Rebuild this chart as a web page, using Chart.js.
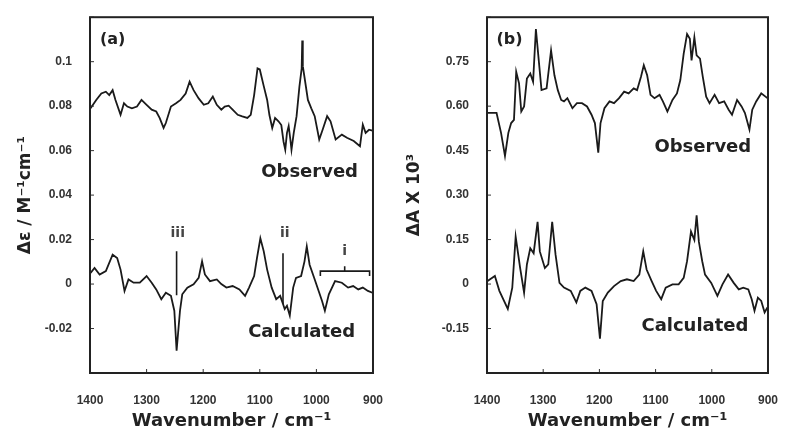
<!DOCTYPE html>
<html>
<head>
<meta charset="utf-8">
<script src="https://cdn.jsdelivr.net/npm/chart.js@4"></script>
<style>
html, body { margin: 0; padding: 0; background: #fff; }
#wrap { position: relative; width: 790px; height: 437px; }
.panel { position: absolute; top: 0; width: 395px; height: 437px; }
#pa { left: 0; }
#pb { left: 395px; }
</style>
</head>
<body>
<div id="wrap">
  <div class="panel" id="pa"><canvas id="chartA" width="395" height="437"></canvas></div>
  <div class="panel" id="pb"><canvas id="chartB" width="395" height="437"></canvas></div>
</div>
<script>
// panel (a): delta epsilon, observed and calculated
const obsA_wn = [1399,1389,1380,1372,1366,1360,1355,1346,1340,1334,1326,1317,1309,1300,1291,1283,1277,1270,1266,1257,1248,1240,1231,1224,1217,1208,1199,1191,1183,1176,1168,1162,1155,1148,1139,1131,1122,1116,1110,1104,1100,1093,1087,1083,1078,1073,1067,1062,1058,1055,1052,1049,1046,1044,1040,1035,1030,1026,1025,1024,1021,1015,1009,1003,995,989,981,975,966,955,946,934,923,918,913,907,901];
const obsA_val = [0.079,0.0828,0.0857,0.0865,0.085,0.0872,0.0828,0.0761,0.0813,0.0798,0.079,0.0798,0.0828,0.0806,0.0784,0.0776,0.0747,0.0702,0.0724,0.0798,0.0813,0.0828,0.0857,0.091,0.0872,0.0835,0.0806,0.0813,0.0843,0.0806,0.0784,0.0798,0.0802,0.0784,0.0761,0.0754,0.0747,0.0761,0.085,0.097,0.0965,0.089,0.0828,0.076,0.0702,0.0747,0.0732,0.0715,0.064,0.0604,0.068,0.071,0.065,0.0604,0.068,0.0755,0.0888,0.097,0.1095,0.098,0.093,0.0828,0.079,0.0755,0.065,0.0694,0.0755,0.0732,0.065,0.0672,0.0658,0.0643,0.062,0.0717,0.068,0.0694,0.069];

const calcA_wn = [1399,1392,1383,1372,1360,1352,1346,1339,1332,1323,1312,1300,1291,1283,1274,1266,1257,1251,1247,1241,1237,1228,1217,1208,1202,1197,1188,1176,1168,1159,1148,1136,1126,1119,1110,1105,1099,1093,1087,1079,1071,1064,1059,1056,1052,1047,1041,1036,1027,1021,1017,1012,1004,996,990,985,978,967,955,944,935,926,918,909,901];
const calcA_val = [0.005,0.0072,0.0043,0.0058,0.0132,0.0117,0.0065,-0.0031,0.0021,0.0006,0.0006,0.0036,0.0006,-0.0024,-0.0068,-0.0039,-0.0053,-0.012,-0.030,-0.012,-0.0046,-0.0016,-0.0001,0.0028,0.0102,0.0043,0.0013,0.0021,0,-0.0016,-0.0009,-0.0024,-0.0053,-0.0016,0.0036,0.0117,0.0206,0.0147,0.0065,-0.0016,-0.0068,-0.0053,-0.009,-0.0112,-0.0098,-0.0142,-0.0016,0.0028,0.0036,0.0102,0.0169,0.0087,0.0028,-0.0031,-0.0076,-0.012,-0.0046,0.0013,0.0006,-0.0016,-0.0009,-0.0024,-0.0016,-0.0031,-0.0039];

// band markers iii, ii and bracket i
const markIII_wn = [1247, 1247];
const markIII_val = [0.0147, -0.005];
const markII_wn = [1059, 1059];
const markII_val = [0.0139, -0.009];
const bracketI_wn = [993, 993, 950, 950, 950, 906, 906];
const bracketI_val = [0.0036, 0.0058, 0.0058, 0.008, 0.0058, 0.0058, 0.0036];

// panel (b): delta A x 10^3
const obsB_wn = [1399,1383,1375,1368,1362,1357,1352,1348,1343,1339,1334,1329,1323,1318,1313,1309,1303,1294,1286,1280,1274,1268,1263,1257,1248,1240,1231,1222,1214,1208,1202,1198,1191,1182,1174,1165,1156,1148,1139,1133,1126,1121,1115,1109,1102,1093,1087,1079,1070,1062,1056,1050,1044,1039,1036,1031,1027,1021,1016,1010,1004,995,987,978,970,964,955,947,941,933,928,921,912,901];
const obsB_val = [0.577,0.577,0.51,0.432,0.51,0.543,0.554,0.716,0.677,0.582,0.599,0.693,0.71,0.682,0.86,0.777,0.654,0.66,0.788,0.704,0.654,0.621,0.616,0.627,0.593,0.61,0.61,0.599,0.571,0.543,0.443,0.543,0.593,0.616,0.61,0.627,0.649,0.643,0.66,0.654,0.699,0.738,0.704,0.638,0.627,0.638,0.616,0.582,0.621,0.643,0.688,0.777,0.843,0.827,0.754,0.832,0.771,0.76,0.699,0.632,0.61,0.638,0.61,0.616,0.588,0.571,0.621,0.599,0.577,0.521,0.588,0.616,0.643,0.627];

const calcB_wn = [1399,1386,1378,1363,1355,1349,1341,1334,1329,1323,1317,1310,1306,1297,1291,1284,1278,1271,1263,1251,1241,1234,1225,1214,1205,1199,1194,1185,1174,1162,1151,1139,1129,1122,1116,1107,1099,1090,1082,1070,1059,1050,1044,1037,1031,1027,1023,1017,1012,1001,990,981,971,961,952,944,935,929,924,918,912,906,901];
const calcB_val = [0.01,0.027,-0.023,-0.084,-0.012,0.16,0.054,-0.029,0.066,0.121,0.104,0.21,0.11,0.054,0.066,0.21,0.099,0.004,-0.012,-0.023,-0.062,-0.023,-0.012,-0.023,-0.068,-0.184,-0.057,-0.029,-0.007,0.01,0.016,0.01,0.032,0.11,0.049,0.01,-0.023,-0.051,-0.012,-0.001,-0.001,0.021,0.077,0.177,0.149,0.232,0.143,0.077,0.032,0.004,-0.04,-0.001,0.032,0.004,-0.018,-0.012,-0.018,-0.051,-0.09,-0.046,-0.057,-0.096,-0.079];

const xTitle = 'Wavenumber / cm\u207B\u00B9';
const yTitleA = '\u0394\u03B5 / M\u207B\u00B9cm\u207B\u00B9';
const yTitleB = '\u0394A X 10\u00B3';

const toPoints = (xs, ys) => xs.map((v, i) => ({ x: v, y: ys[i] }));

const lineSet = (xs, ys, w) => ({
    data: toPoints(xs, ys),
    borderColor: '#1a1a1a',
    borderWidth: w || 1.8,
    pointRadius: 0,
    tension: 0,
    fill: false
});

// frame, inward tick marks and the in-plot labels
const frameAndNotes = {
    id: 'frameAndNotes',
    afterDatasetsDraw(chart, args, opts) {
        const { ctx, chartArea: a, scales: { x, y } } = chart;
        ctx.save();
        ctx.strokeStyle = '#333';
        ctx.lineWidth = 1;
        ctx.beginPath();
        x.ticks.forEach(t => {
            const px = x.getPixelForValue(t.value);
            ctx.moveTo(px, a.bottom);
            ctx.lineTo(px, a.bottom - 4);
        });
        y.ticks.forEach(t => {
            const py = y.getPixelForValue(t.value);
            ctx.moveTo(a.left, py);
            ctx.lineTo(a.left + 4, py);
        });
        ctx.stroke();
        ctx.strokeStyle = '#222';
        ctx.lineWidth = 2;
        ctx.strokeRect(a.left, a.top, a.width, a.height);
        ctx.textAlign = 'center';
        ctx.textBaseline = 'middle';
        (opts.notes || []).forEach(n => {
            ctx.font = n.font;
            ctx.fillStyle = n.color;
            ctx.fillText(n.text, x.getPixelForValue(n.wn), y.getPixelForValue(n.val));
        });
        ctx.restore();
    }
};

const tickFont = { family: "'Liberation Sans', Arial, sans-serif", size: 12, weight: 'bold' };
const titleFont = { family: "'DejaVu Sans', sans-serif", size: 18, weight: 'bold' };

function makeChart(id, datasets, y, notes, pad) {
    return new Chart(document.getElementById(id), {
        type: 'line',
        data: { datasets: datasets },
        options: {
            responsive: false,
            animation: false,
            layout: { padding: { top: 13, right: pad.right, left: 0, bottom: 0 } },
            plugins: {
                legend: { display: false },
                tooltip: { enabled: false },
                frameAndNotes: { notes: notes }
            },
            scales: {
                x: {
                    type: 'linear',
                    min: 900,
                    max: 1400,
                    reverse: true,
                    grid: { display: false },
                    border: { display: false },
                    ticks: { stepSize: 100, padding: 12, color: '#333', font: tickFont, maxRotation: 0,
                             callback: v => String(v) },
                    title: { display: true, text: xTitle, color: '#222', font: titleFont, padding: { top: 0, bottom: 5 } },
                    afterFit: s => { s.height = 64; }
                },
                y: {
                    min: y.min,
                    max: y.max,
                    grid: { display: false },
                    border: { display: false },
                    ticks: { stepSize: y.step, padding: 10, color: '#333', font: tickFont, callback: y.fmt },
                    title: { display: true, text: y.title, color: '#222',
                             font: { family: "'DejaVu Sans', sans-serif", size: 17, weight: 'bold' },
                             padding: { top: y.titlePad, bottom: 0 } },
                    afterFit: s => { s.width = pad.left; }
                }
            }
        },
        plugins: [frameAndNotes]
    });
}

const noteFont = "bold 18px 'DejaVu Sans', sans-serif";
const bandFont = "bold 14px 'DejaVu Sans', sans-serif";

makeChart('chartA',
    [
        lineSet(obsA_wn, obsA_val),
        lineSet(calcA_wn, calcA_val),
        lineSet(markIII_wn, markIII_val, 1.6),
        lineSet(markII_wn, markII_val, 1.6),
        lineSet(bracketI_wn, bracketI_val, 1.6)
    ],
    {
        min: -0.04, max: 0.12, step: 0.02, title: yTitleA, titlePad: 15,
        fmt: v => (v < -0.03 || v > 0.11) ? '' : String(Math.round(v * 100) / 100)
    },
    [
        { text: '(a)', wn: 1360, val: 0.1098, font: "bold 16px 'DejaVu Sans', sans-serif", color: '#222' },
        { text: 'Observed', wn: 1012, val: 0.0502, font: noteFont, color: '#222' },
        { text: 'Calculated', wn: 1026, val: -0.0218, font: noteFont, color: '#222' },
        { text: 'iii', wn: 1245, val: 0.0228, font: bandFont, color: '#444' },
        { text: 'ii', wn: 1056, val: 0.0228, font: bandFont, color: '#444' },
        { text: 'i', wn: 950, val: 0.0145, font: bandFont, color: '#444' }
    ],
    { left: 90, right: 15 }
);

makeChart('chartB',
    [
        lineSet(obsB_wn, obsB_val),
        lineSet(calcB_wn, calcB_val)
    ],
    {
        min: -0.3, max: 0.9, step: 0.15, title: yTitleB, titlePad: 9,
        fmt: v => {
            if (v < -0.2 || v > 0.8) return '';
            const r = Math.round(v * 100) / 100;
            return r === 0 ? '0' : r.toFixed(2);
        }
    },
    [
        { text: '(b)', wn: 1360, val: 0.823, font: "bold 16px 'DejaVu Sans', sans-serif", color: '#222' },
        { text: 'Observed', wn: 1016, val: 0.46, font: noteFont, color: '#222' },
        { text: 'Calculated', wn: 1030, val: -0.143, font: noteFont, color: '#222' }
    ],
    { left: 92, right: 13 }
);
</script>
</body>
</html>
